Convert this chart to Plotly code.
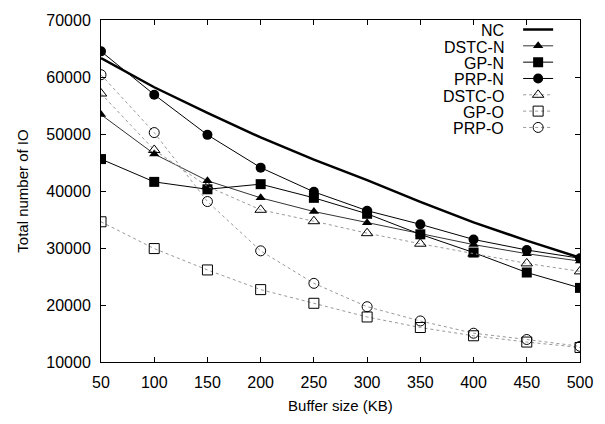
import plotly.graph_objects as go

buffer_kb = [50, 100, 150, 200, 250, 300, 350, 400, 450, 500]

nc     = [63300, 58200, 53700, 49400, 45500, 41900, 38100, 34500, 31300, 28300]
dstc_n = [53400, 46500, 41800, 38800, 36400, 34450, 32500, 30600, 29000, 27700]
gp_n   = [45600, 41600, 40300, 41200, 38800, 36000, 32400, 29200, 25700, 23000]
prp_n  = [64500, 56900, 49850, 44100, 39850, 36550, 34150, 31500, 29650, 28200]
dstc_o = [57100, 47200, 40800, 36700, 34700, 32600, 30750, 29000, 27300, 25900]
gp_o   = [34600, 29900, 26150, 22700, 20300, 17900, 16050, 14600, 13500, 12550]
prp_o  = [60400, 50250, 38150, 29500, 23800, 19700, 17200, 15050, 13950, 12750]

names = ["NC", "DSTC-N", "GP-N", "PRP-N", "DSTC-O", "GP-O", "PRP-O"]
series = [nc, dstc_n, gp_n, prp_n, dstc_o, gp_o, prp_o]
styles = [
    dict(mode="lines", line=dict(color="black", width=2.5)),
    dict(mode="lines+markers", line=dict(color="#333333", width=1),
         marker=dict(symbol="triangle-up", size=9, color="black")),
    dict(mode="lines+markers", line=dict(color="black", width=1),
         marker=dict(symbol="square", size=10, color="black")),
    dict(mode="lines+markers", line=dict(color="black", width=1),
         marker=dict(symbol="circle", size=10, color="black")),
    dict(mode="lines+markers", line=dict(color="#999999", width=1, dash="dot"),
         marker=dict(symbol="triangle-up-open", size=10, color="black", line=dict(width=1))),
    dict(mode="lines+markers", line=dict(color="#999999", width=1, dash="dot"),
         marker=dict(symbol="square-open", size=10, color="black", line=dict(width=1))),
    dict(mode="lines+markers", line=dict(color="#999999", width=1, dash="dot"),
         marker=dict(symbol="circle-open", size=10, color="black", line=dict(width=1))),
]

W, H = 605, 424
ml, mr, mt, mb = 101, 24, 16, 55
pw, ph = W - ml - mr, H - mt - mb

def px_x(px):
    return (px - ml) / pw

def px_y(py):
    return (H - mb - py) / ph

fig = go.Figure()
legend_layouts = {}
annotations = []
row0, row_h = 27.3, 16.85
for i, (nm, ys, st) in enumerate(zip(names, series, styles)):
    key = "legend" if i == 0 else f"legend{i + 1}"
    fig.add_trace(go.Scatter(x=buffer_kb, y=ys, name="", showlegend=True,
                             legend=key, **st))
    cy = row0 + i * row_h
    legend_layouts[key] = dict(
        x=px_x(519), y=px_y(cy - 1.5), xanchor="left", yanchor="middle",
        bgcolor="rgba(0,0,0,0)", borderwidth=0, font=dict(size=10),
        itemwidth=30)
    annotations.append(dict(
        x=px_x(507), y=px_y(cy), xref="paper", yref="paper",
        text=nm, showarrow=False, xanchor="right", yanchor="middle",
        font=dict(family="Liberation Sans, Arial, sans-serif", size=16, color="black"),
    ))

fig.update_layout(
    width=W, height=H,
    margin=dict(l=ml, r=mr, t=mt, b=mb),
    paper_bgcolor="white", plot_bgcolor="white",
    font=dict(family="Liberation Sans, Arial, sans-serif", size=15, color="black"),
    showlegend=True,
    annotations=annotations,
    xaxis=dict(range=[50, 500], tickmode="linear", tick0=50, dtick=50,
               ticks="inside", ticklen=5, tickcolor="black", mirror="allticks",
               showline=True, linecolor="black", linewidth=1, showgrid=False,
               zeroline=False, tickfont=dict(size=16), ticklabelstandoff=6,
               tickformat="d",
               title=dict(text="Buffer size (KB)", font=dict(size=15), standoff=10)),
    yaxis=dict(range=[10000, 70000], tickmode="linear", tick0=10000, dtick=10000,
               ticks="inside", ticklen=5, tickcolor="black", mirror="allticks",
               showline=True, linecolor="black", linewidth=1, showgrid=False,
               zeroline=False, tickfont=dict(size=16), ticklabelstandoff=6,
               tickformat="d",
               title=dict(text="Total number of IO", font=dict(size=15), standoff=14)),
)
fig.update_layout(**legend_layouts)

fig.write_html("out.html", post_script="document.body.style.margin='0';",
               config={"displayModeBar": False})
